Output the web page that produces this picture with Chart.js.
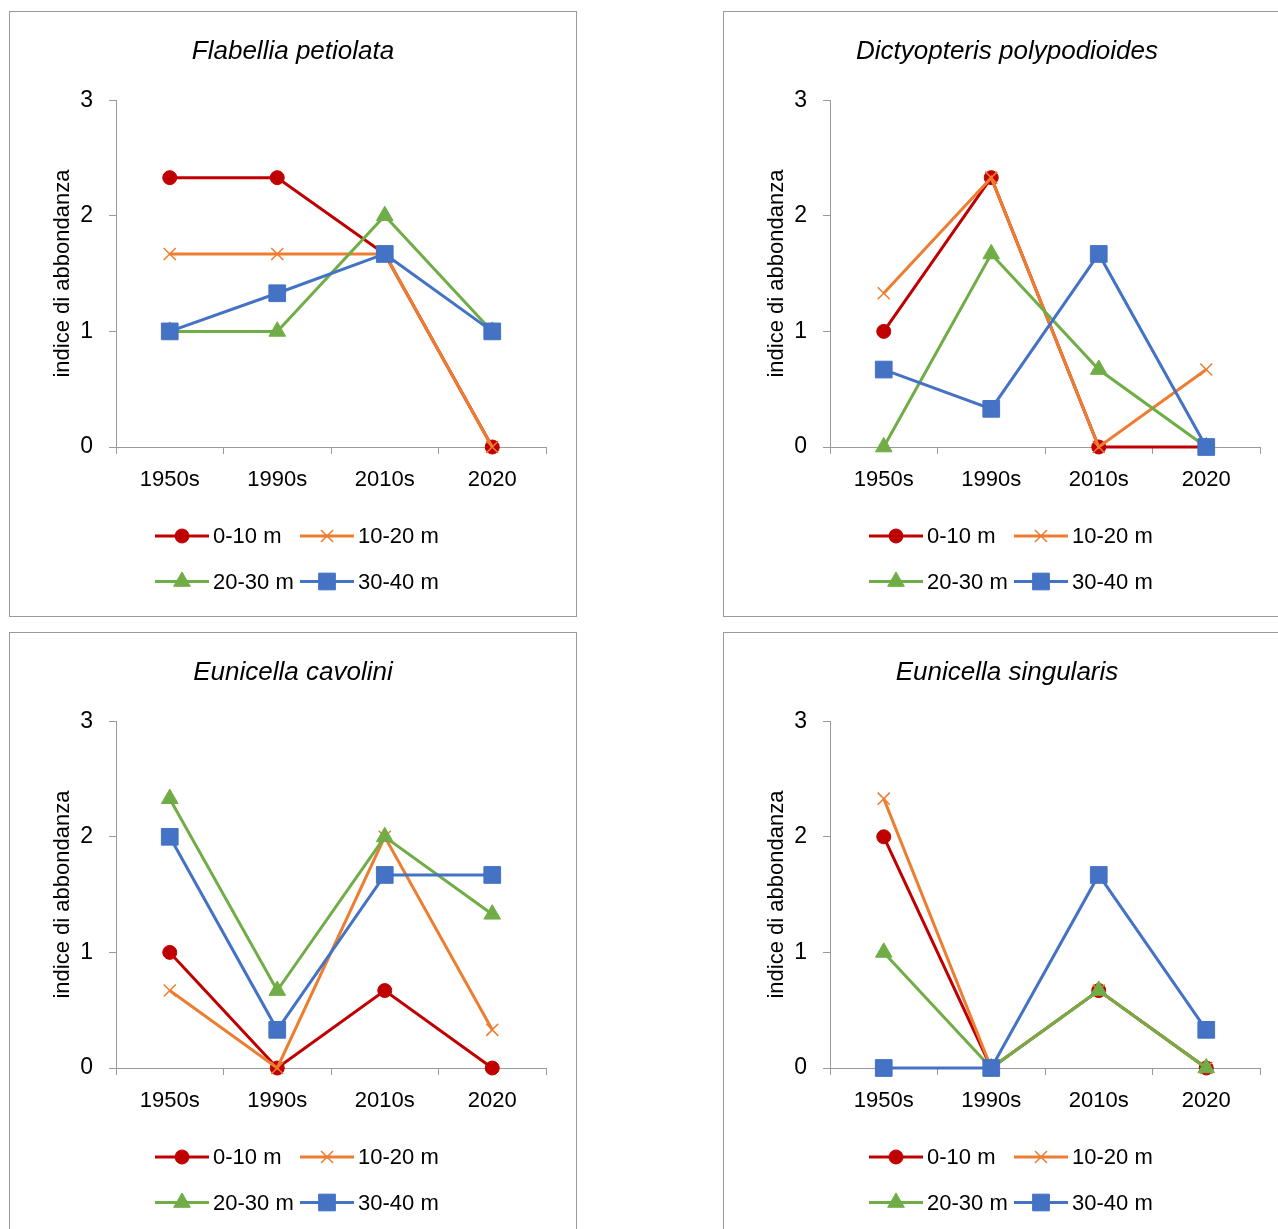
<!DOCTYPE html>
<html>
<head>
<meta charset="utf-8">
<script src="https://cdn.jsdelivr.net/npm/chart.js@4.4.0/dist/chart.umd.min.js"></script>
<style>
    body { margin: 0; background: #fff; width: 1278px; height: 1229px; overflow: hidden; position: relative; }
    .pannello { position: absolute; width: 568px; height: 606px; border: 1px solid #9a9a9a; box-sizing: border-box; background: #fff; }
</style>
</head>
<body>
<div class="pannello" style="left:9px;top:11px"><canvas id="grafico1"></canvas></div>
<div class="pannello" style="left:723px;top:11px"><canvas id="grafico2"></canvas></div>
<div class="pannello" style="left:9px;top:632px"><canvas id="grafico3"></canvas></div>
<div class="pannello" style="left:723px;top:632px"><canvas id="grafico4"></canvas></div>
<script>
// periodi e fasce di profondita
var periodi = ['1950s', '1990s', '2010s', '2020'];
var fasce = ['0-10 m', '10-20 m', '20-30 m', '30-40 m'];
var valoriAsse = [0, 1, 2, 3];

// Flabellia petiolata
var flabellia_0_10 = [2.33, 2.33, 1.67, 0];
var flabellia_10_20 = [1.67, 1.67, 1.67, 0];
var flabellia_20_30 = [1, 1, 2, 1];
var flabellia_30_40 = [1, 1.33, 1.67, 1];

// Dictyopteris polypodioides
var dictyopteris_0_10 = [1, 2.33, 0, 0];
var dictyopteris_10_20 = [1.33, 2.33, 0, 0.67];
var dictyopteris_20_30 = [0, 1.67, 0.67, 0];
var dictyopteris_30_40 = [0.67, 0.33, 1.67, 0];

// Eunicella cavolini
var cavolini_0_10 = [1, 0, 0.67, 0];
var cavolini_10_20 = [0.67, 0, 2, 0.33];
var cavolini_20_30 = [2.33, 0.67, 2, 1.33];
var cavolini_30_40 = [2, 0.33, 1.67, 1.67];

// Eunicella singularis
var singularis_0_10 = [2, 0, 0.67, 0];
var singularis_10_20 = [2.33, 0, 0.67, 0];
var singularis_20_30 = [1, 0, 0.67, 0];
var singularis_30_40 = [0, 0, 1.67, 0.33];

var colori = ['#C00000', '#ED7D31', '#70AD47', '#4472C4'];
var marcatori = ['circle', 'crossRot', 'triangle', 'rect'];
var raggi = [7, 8.5, 9.6, 11.8];

var FONT = '"Liberation Sans", Arial, sans-serif';
var GRIGIO = '#9a9a9a';

// legenda disegnata a mano: linea + marcatore, due colonne
var legendaManuale = {
    id: 'legendaManuale',
    afterDraw: function(chart) {
        var ctx = chart.ctx;
        var area = chart.chartArea;
        chart.data.datasets.forEach(function(ds, i) {
            var x0 = area.left + 39 + (i % 2) * 145;
            var y = area.bottom + 89 + Math.floor(i / 2) * 45.5;
            ctx.save();
            ctx.strokeStyle = ds.borderColor;
            ctx.lineWidth = 3;
            ctx.beginPath();
            ctx.moveTo(x0, y);
            ctx.lineTo(x0 + 54, y);
            ctx.stroke();
            ctx.fillStyle = ds.pointBackgroundColor;
            ctx.strokeStyle = ds.pointBorderColor;
            ctx.lineWidth = ds.pointBorderWidth;
            Chart.helpers.drawPoint(ctx, {
                pointStyle: ds.pointStyle,
                radius: ds.pointRadius,
                borderWidth: ds.pointBorderWidth,
                rotation: 0
            }, x0 + 27, y);
            ctx.fillStyle = '#000';
            ctx.font = '22px ' + FONT;
            ctx.textBaseline = 'middle';
            ctx.textAlign = 'left';
            ctx.fillText(ds.label, x0 + 58, y + 1);
            ctx.restore();
        });
    }
};

function creaGrafico(id, titolo, serie) {
    var datasets = [];
    for (var i = 0; i < serie.length; i++) {
        datasets.push({
            label: fasce[i],
            data: serie[i],
            borderColor: colori[i],
            backgroundColor: colori[i],
            borderWidth: 3,
            pointStyle: marcatori[i],
            pointRadius: raggi[i],
            pointHoverRadius: raggi[i],
            pointBackgroundColor: colori[i],
            pointBorderColor: colori[i],
            pointBorderWidth: marcatori[i] == 'crossRot' ? 1.5 : 1,
            tension: 0,
            clip: false,
            order: 3 - i
        });
    }

    return new Chart(document.getElementById(id), {
        type: 'line',
        data: {
            labels: periodi,
            datasets: datasets
        },
        plugins: [legendaManuale],
        options: {
            responsive: true,
            maintainAspectRatio: false,
            animation: false,
            events: [],
            layout: {
                // stesso margine a destra e sinistra, cosi il titolo resta centrato
                padding: { left: 30, right: 30, top: 0, bottom: 109 }
            },
            plugins: {
                legend: { display: false },
                tooltip: { enabled: false },
                title: {
                    display: true,
                    text: titolo,
                    color: '#000',
                    font: { family: FONT, size: 26, style: 'italic', weight: 'normal' },
                    padding: { top: 24, bottom: 33 }
                }
            },
            scales: {
                x: {
                    type: 'category',
                    offset: true,
                    grid: { offset: true, drawOnChartArea: false, drawTicks: true, tickLength: 7, color: GRIGIO },
                    border: { display: true, color: GRIGIO, width: 1 },
                    ticks: { color: '#000', padding: 13, maxRotation: 0, font: { family: FONT, size: 22 } },
                    afterFit: function(scale) { scale.height = 60; }
                },
                y: {
                    min: 0,
                    max: 3,
                    grid: { drawOnChartArea: false, drawTicks: true, tickLength: 7, color: GRIGIO },
                    border: { display: true, color: GRIGIO, width: 1 },
                    ticks: {
                        stepSize: 1,
                        color: '#000',
                        padding: 16,
                        font: { family: FONT, size: 23 },
                        callback: function(v) { return valoriAsse.indexOf(v) >= 0 ? v : ''; }
                    },
                    title: {
                        display: true,
                        text: 'indice di abbondanza',
                        color: '#000',
                        font: { family: FONT, size: 22 },
                        padding: { top: 10, bottom: 0 }
                    },
                    afterFit: function(scale) { scale.width = 76; }
                }
            }
        }
    });
}

creaGrafico('grafico1', 'Flabellia petiolata',
    [flabellia_0_10, flabellia_10_20, flabellia_20_30, flabellia_30_40]);
creaGrafico('grafico2', 'Dictyopteris polypodioides',
    [dictyopteris_0_10, dictyopteris_10_20, dictyopteris_20_30, dictyopteris_30_40]);
creaGrafico('grafico3', 'Eunicella cavolini',
    [cavolini_0_10, cavolini_10_20, cavolini_20_30, cavolini_30_40]);
creaGrafico('grafico4', 'Eunicella singularis',
    [singularis_0_10, singularis_10_20, singularis_20_30, singularis_30_40]);
</script>
</body>
</html>
